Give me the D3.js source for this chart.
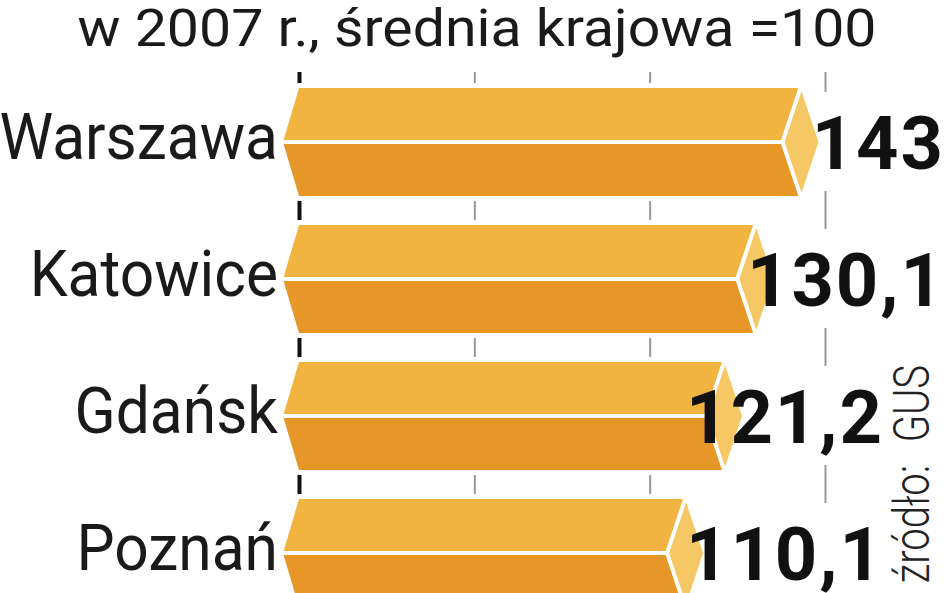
<!DOCTYPE html>
<html>
<head>
<meta charset="utf-8">
<script src="https://cdn.jsdelivr.net/npm/d3@7"></script>
<style>
  body { margin: 0; background: #fff; }
  svg { display: block; }
</style>
</head>
<body>
<div id="chart"></div>
<script>
// wskaznik dla miast, srednia krajowa = 100
var title = "w 2007 r., średnia krajowa =100";
var source = "źródło: GUS";
var cities = ["Warszawa", "Katowice", "Gdańsk", "Poznań"];
var values = [143, 130.1, 121.2, 110.1];
var value_labels = ["143", "130,1", "121,2", "110,1"];
var tick_values = [0, 50, 100, 150];

var W = 948, H = 593;
var col_top = "#f2b440", col_bottom = "#e79628", col_cap = "#f5c765";

function draw_chart(){
	var svg = d3.select("#chart").append("svg")
		.attr("width", W).attr("height", H);

	var x = d3.scaleLinear().domain([0, 150]).range([299, 825]);
	var y = d3.scaleBand().domain(cities).range([88, 607])
		.paddingInner(0.212).paddingOuter(0);
	var bh = y.bandwidth();
	var tip = 16, cap = 18;

	// title (font is a bit wider than Roboto, so stretch it)
	svg.append("text")
		.attr("transform", "translate(477,46) scale(1.1,1)")
		.attr("text-anchor", "middle")
		.style("font-family", "Roboto").style("font-size", "52px")
		.style("fill", "#1a1a1a")
		.text(title);

	// grid lines (bars cover them)
	var grid = svg.append("g")
		.attr("transform", "translate(0," + H + ")")
		.call(d3.axisBottom(x).tickValues(tick_values)
			.tickSize(-(H - 72)).tickFormat(""));
	grid.select(".domain").remove();
	grid.selectAll(".tick line")
		.attr("stroke", function(d){ return d === 0 ? "#111" : "#999"; })
		.attr("stroke-width", function(d){ return d === 0 ? 4 : 2; });

	var rows = svg.selectAll(".row").data(cities).enter().append("g")
		.attr("class", "row")
		.attr("transform", function(d){ return "translate(0," + y(d) + ")"; });

	// value labels: right edge kept clear of the source note for lower rows
	var label_right = function(i){ return y(cities[i]) + bh > 340 ? 884 : 945; };
	var labels = rows.append("text")
		.attr("class", "val")
		.attr("x", function(d, i){ return label_right(i); })
		.attr("y", bh / 2 + 27)
		.attr("text-anchor", "end")
		.style("font-family", "Roboto").style("font-weight", "bold")
		.style("font-size", "74px").style("letter-spacing", "2px")
		.style("fill", "#111")
		.text(function(d, i){ return value_labels[i]; });

	// white boxes behind labels to break the grid line
	labels.each(function(){
		var b = this.getBBox();
		d3.select(this.parentNode).insert("rect", "text")
			.attr("x", b.x - 6).attr("y", b.y - 8)
			.attr("width", b.width + 12).attr("height", b.height + 12)
			.attr("fill", "#fff");
	});

	// bars
	rows.each(function(d, i){
		var g = d3.select(this);
		var x0 = x(0), xv = x(values[i]), m = bh / 2;
		var outline = [[x0, 0], [xv, 0], [xv + cap, m], [xv, bh], [x0, bh], [x0 - tip, m]];
		var topf = [[x0, 0], [xv, 0], [xv - cap, m], [x0 - tip, m]];
		var botf = [[x0 - tip, m], [xv - cap, m], [xv, bh], [x0, bh]];
		var capf = [[xv, 0], [xv + cap, m], [xv, bh], [xv - cap, m]];
		var bars = g.insert("g", "text.val");
		bars.append("polygon").attr("points", outline.join(" "))
			.attr("fill", "#fff").attr("stroke", "#fff").attr("stroke-width", 10)
			.attr("stroke-linejoin", "round");
		bars.append("polygon").attr("points", topf.join(" ")).attr("fill", col_top);
		bars.append("polygon").attr("points", botf.join(" ")).attr("fill", col_bottom);
		bars.append("polygon").attr("points", capf.join(" ")).attr("fill", col_cap);
		bars.append("polyline").attr("points", [[x0 - tip, m], [xv - cap, m]].join(" "))
			.attr("stroke", "#fff").attr("stroke-width", 4).attr("fill", "none");
		bars.append("polyline").attr("points", [[xv, 0], [xv - cap, m], [xv, bh]].join(" "))
			.attr("stroke", "#fff").attr("stroke-width", 4).attr("fill", "none");
	});

	// city names (narrower than Roboto)
	rows.append("text")
		.attr("transform", "translate(278," + (bh / 2 + 17) + ") scale(0.945,1)")
		.attr("text-anchor", "end")
		.style("font-family", "Roboto").style("font-size", "64px")
		.style("fill", "#1a1a1a")
		.text(function(d){ return d; });

	// source note, vertical
	svg.append("text")
		.attr("transform", "translate(929,365) rotate(-90) scale(0.8,1)")
		.attr("text-anchor", "end")
		.style("font-family", "Roboto").style("font-weight", 300)
		.style("font-size", "50px").style("word-spacing", "16px")
		.style("fill", "#222")
		.text(source);
}

window.onload = draw_chart;
</script>
</body>
</html>
